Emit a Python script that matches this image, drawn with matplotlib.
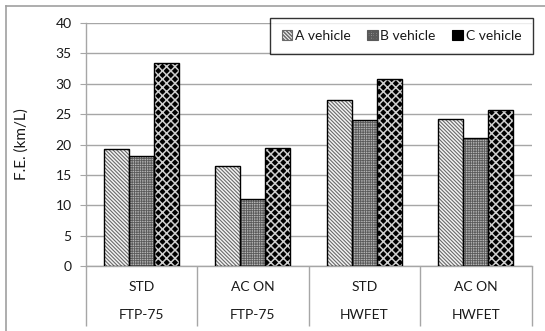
import numpy as np
import matplotlib
matplotlib.use("Agg")
import matplotlib.pyplot as plt
from matplotlib.patches import Patch
from matplotlib.lines import Line2D

plt.rcParams['font.family'] = ['Lato', 'DejaVu Sans']

# data
modes = ["STD", "AC ON", "STD", "AC ON"]
cycles = ["FTP-75", "FTP-75", "HWFET", "HWFET"]
vehicles = ["A vehicle", "B vehicle", "C vehicle"]
a_vals = [19.3, 16.4, 27.4, 24.2]
b_vals = [18.1, 11.1, 24.0, 21.1]
c_vals = [33.4, 19.5, 30.7, 25.7]

# face, hatch, hatch colour, hatch width per series
styles = [("#f4f4f4", "\\" * 9, "#6a6a6a", 0.8),
          ("#b4b4b4", "+" * 7, "#5a5a5a", 0.6),
          ("#000000", "xxxx", "#cfcfcf", 1.1)]

grid_col = "#a6a6a6"
txt_col = "#1a1a1a"
fsize = 10

fig = plt.figure(figsize=(5.45, 3.31), dpi=100)
ax = fig.add_axes([85.5 / 545, 65 / 331, 446 / 545, 243 / 331])


def set_hw(patch, lw):
    if hasattr(patch, "set_hatch_linewidth"):
        patch.set_hatch_linewidth(lw)


x = np.arange(len(modes))
w = 0.223
for i, vals in enumerate([a_vals, b_vals, c_vals]):
    face, hatch, hcol, hlw = styles[i]
    plt.rcParams['hatch.linewidth'] = hlw
    pos = x + (i - 1) * w
    bars = ax.bar(pos, vals, w, color=face, hatch=hatch, edgecolor=hcol,
                  linewidth=0, zorder=3)
    for b in bars:
        set_hw(b, hlw)
    ax.bar(pos, vals, w, fill=False, edgecolor="black", linewidth=1.0,
           zorder=4)

ax.set_xlim(-0.5, len(modes) - 0.5)
ax.set_ylim(0, 40)
ax.set_yticks(np.arange(0, 41, 5))
ax.yaxis.grid(True, color=grid_col, linewidth=1.0, zorder=0)
ax.set_axisbelow(True)

for s in ["top", "right"]:
    ax.spines[s].set_visible(False)
for s in ["left", "bottom"]:
    ax.spines[s].set_color(grid_col)
    ax.spines[s].set_linewidth(1.0)

ax.tick_params(axis="y", length=4, color=grid_col, labelsize=fsize,
               labelcolor=txt_col, pad=6)
# category separators as long ticks
ax.set_xticks(np.arange(-0.5, len(modes)))
ax.set_xticklabels([])
ax.tick_params(axis="x", length=43, color=grid_col, width=1.0)

for xi, (m, c) in enumerate(zip(modes, cycles)):
    ax.text(xi, -3.4, m, ha="center", va="center", fontsize=fsize,
            color=txt_col, clip_on=False)
    ax.text(xi, -8.1, c, ha="center", va="center", fontsize=fsize,
            color=txt_col, clip_on=False)

ax.set_ylabel("F.E. (km/L)", fontsize=11, color=txt_col)
ax.yaxis.set_label_coords(-0.128, 0.5)

handles = []
for i, name in enumerate(vehicles):
    face, hatch, hcol, hlw = styles[i]
    edge = "black" if i == 2 else hcol
    handles.append(Patch(facecolor=face, hatch=hatch, edgecolor=edge,
                         linewidth=0.8, label=name))
leg = fig.legend(handles=handles, ncol=3, loc="upper right",
                 bbox_to_anchor=(533 / 545, 1 - 18 / 331), frameon=True,
                 fancybox=False, fontsize=fsize, handlelength=0.75,
                 handleheight=0.75, handletextpad=0.2, columnspacing=1.2,
                 borderpad=0.85, borderaxespad=0)
leg.get_frame().set_edgecolor("black")
leg.get_frame().set_linewidth(1.0)
for t in leg.get_texts():
    t.set_color(txt_col)

# outer chart frame (only top and left visible)
fig.add_artist(Line2D([6 / 545, 6 / 545], [0, 1 - 6 / 331],
                      color="#a0a0a0", linewidth=1.2))
fig.add_artist(Line2D([6 / 545, 1], [1 - 6 / 331, 1 - 6 / 331],
                      color="#a0a0a0", linewidth=1.2))

fig.savefig("out.png", dpi=100)
